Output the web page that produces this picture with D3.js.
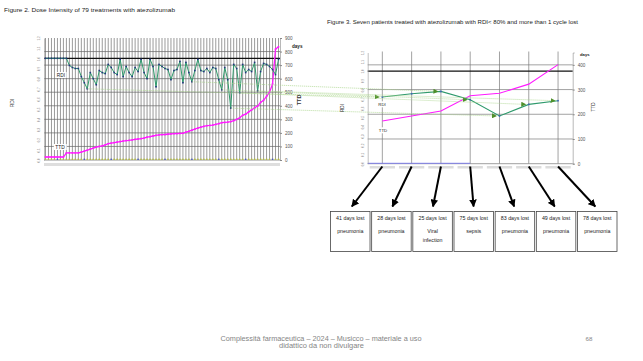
<!DOCTYPE html>
<html>
<head>
<meta charset="utf-8">
<script src="https://cdn.jsdelivr.net/npm/d3@7"></script>
<style>
  body { margin: 0; background: #fff; }
  svg { display: block; font-family: "Liberation Sans", Arial, sans-serif; }
</style>
</head>
<body>
<svg id="slide" width="643" height="361"></svg>
<script>
// ===== Data =====
// Figure 2: 79 treatments, sorted by time to discontinuation
const treatmentRdi = [
  1, 1, 1, 1, 1, 1, 1, 1, 0.93, 0.91,
  0.90, 0.90, 0.82, 0.76, 0.70, 0.86, 0.80, 0.74, 0.88, 0.86,
  0.85, 0.94, 0.91, 0.86, 0.84, 0.99, 0.82, 0.92, 0.86, 0.82,
  0.91, 0.87, 0.99, 0.86, 0.80, 0.99, 0.92, 0.72, 0.94, 0.92,
  0.90, 0.89, 0.79, 0.88, 0.89, 0.97, 0.76, 0.96, 0.86, 0.77,
  0.88, 0.99, 0.88, 0.87, 0.90, 0.86, 0.91, 0.90, 0.79, 0.69,
  0.91, 0.79, 0.51, 0.94, 0.90, 0.66, 0.94, 0.86, 0.89, 0.87,
  0.96, 0.68, 0.87, 0.95, 0.94, 0.92, 0.89, 0.84, 0.99
];
const treatmentTtd = [
  22, 22, 22, 22, 22, 22, 22, 52, 52, 52,
  52, 52, 58, 65, 72, 80, 88, 95, 100, 105,
  112, 120, 124, 128, 132, 136, 140, 143, 145, 148,
  152, 155, 158, 162, 168, 172, 177, 182, 185, 187,
  188, 190, 192, 194, 195, 196, 197, 205, 212, 220,
  228, 236, 242, 248, 253, 255, 258, 263, 268, 275,
  277, 279, 283, 290, 300, 312, 330, 338, 355, 370,
  385, 398, 425, 440, 470, 500, 560, 818, 835
];

// Figure 3: seven patients
const patientIds    = ['P1', 'P2', 'P3', 'P4', 'P5', 'P6', 'P7'];
const patientRdi    = [0.72, 0.755, 0.78, 0.69, 0.515, 0.64, 0.68];
const patientTtd    = [173, 193, 213, 275, 285, 322, 401];
// index of the same treatment in figure 2 (null = no link drawn)
const patientSource = [14, null, 49, 59, 62, 65, 71];
const daysLost      = [41, 28, 25, 75, 83, 49, 78];
const lossCause     = [['pneumonia'], ['pneumonia'], ['Viral', 'infection'], ['sepsis'],
                       ['pneumonia'], ['pneumonia'], ['pneumonia']];

const rdiTicks      = [0, 0.1, 0.2, 0.3, 0.4, 0.5, 0.6, 0.7, 0.8, 0.9, 1.0, 1.1, 1.2];
const ttdTicksLeft  = [0, 100, 200, 300, 400, 500, 600, 700, 800, 900];
const ttdTicksRight = [0, 100, 200, 300, 400];

// ===== Setup =====
const svg = d3.select('#slide');
const teal = '#2f9a6c', magenta = '#ff1aff', markerBlue = '#23357e';
const fmtRdi = d => d.toFixed(1).replace('.', ',');

const defs = svg.append('defs');
defs.append('marker').attr('id', 'blackHead')
  .attr('viewBox', '0 0 10 10').attr('refX', 9).attr('refY', 5)
  .attr('markerWidth', 3.8).attr('markerHeight', 3.8).attr('orient', 'auto')
  .append('path').attr('d', 'M0,0 L10,5 L0,10 z').attr('fill', '#000');
defs.append('marker').attr('id', 'greenHead')
  .attr('viewBox', '0 0 10 10').attr('refX', 9).attr('refY', 5)
  .attr('markerWidth', 5).attr('markerHeight', 5).attr('markerUnits', 'userSpaceOnUse')
  .attr('orient', 'auto')
  .append('path').attr('d', 'M0,0 L10,5 L0,10 z').attr('fill', '#4f8f2a');

// ===== Titles =====
svg.append('text').attr('x', 4).attr('y', 12)
  .attr('font-size', 6).attr('fill', '#222')
  .attr('textLength', 171).attr('lengthAdjust', 'spacingAndGlyphs')
  .text('Figure 2. Dose Intensity of 79 treatments with atezolizumab');
svg.append('text').attr('x', 327).attr('y', 24)
  .attr('font-size', 6).attr('fill', '#222')
  .attr('textLength', 251).attr('lengthAdjust', 'spacingAndGlyphs')
  .text('Figure 3. Seven patients treated with atezolizumab with RDI< 80% and more than 1 cycle lost');

// ===== Left chart (figure 2) =====
const xL   = d3.scaleBand().domain(d3.range(treatmentRdi.length)).range([44, 280]);
const yLR  = d3.scaleLinear().domain([0, 1.2]).range([160, 38]);
const yLT  = d3.scaleLinear().domain([0, 900]).range([160, 38]);
const cxL  = i => xL(i) + xL.bandwidth() / 2;

const left = svg.append('g');

// vertical grid, one per treatment
left.append('g').selectAll('line').data(d3.range(treatmentRdi.length)).join('line')
  .attr('x1', cxL).attr('x2', cxL).attr('y1', 38).attr('y2', 160)
  .attr('stroke', '#8e8e8e').attr('stroke-width', 0.9);

// horizontal grid on TTD ticks
left.append('g').selectAll('line').data(ttdTicksLeft.slice(1, -1)).join('line')
  .attr('x1', 44).attr('x2', 280).attr('y1', d => yLT(d)).attr('y2', d => yLT(d))
  .attr('stroke', '#666').attr('stroke-width', 0.7);

// RDI 100% reference
left.append('line').attr('x1', 44).attr('x2', 280)
  .attr('y1', yLR(1)).attr('y2', yLR(1))
  .attr('stroke', '#111').attr('stroke-width', 1.3);

// baseline + category label band
left.append('line').attr('x1', 44).attr('x2', 280).attr('y1', 160).attr('y2', 160)
  .attr('stroke', '#777').attr('stroke-width', 0.8);
left.append('rect').attr('x', 44).attr('y', 163).attr('width', 236).attr('height', 3)
  .attr('fill', '#dedede');
left.append('g').selectAll('rect').data(d3.range(treatmentRdi.length)).join('rect')
  .attr('x', i => cxL(i) - 0.7).attr('y', 158.6).attr('width', 1.4).attr('height', 1.4)
  .attr('fill', i => i % 9 === 4 ? '#4a5cc0' : '#b8c23a');

// left RDI axis (tiny rotated labels)
const axL = left.append('g').attr('transform', 'translate(44,0)')
  .call(d3.axisLeft(yLR).tickValues(rdiTicks).tickFormat(fmtRdi).tickSize(0).tickPadding(0));
axL.select('.domain').attr('stroke', '#999').attr('stroke-width', 0.6);
axL.selectAll('.tick text').attr('x', null).attr('dy', null)
  .attr('transform', 'translate(-4,0) rotate(-90)').attr('text-anchor', 'middle')
  .attr('font-size', 3).attr('fill', '#777');

// right TTD axis
const axLT = left.append('g').attr('transform', 'translate(280,0)')
  .call(d3.axisRight(yLT).tickValues(ttdTicksLeft).tickSize(2).tickPadding(3));
axLT.select('.domain').attr('stroke', '#888').attr('stroke-width', 0.6);
axLT.selectAll('.tick line').attr('stroke', '#888');
axLT.selectAll('.tick text').attr('font-size', 4.6).attr('fill', '#555');

// ===== Right chart (figure 3) =====
const xR  = d3.scaleBand().domain(patientIds).range([367.7, 572.7]);
const yRR = d3.scaleLinear().domain([0, 1.2]).range([163.7, 52.5]);
const yRT = d3.scaleLinear().domain([0, 450]).range([163.7, 52.5]);
const cxR = p => xR(p) + xR.bandwidth() / 2;

const right = svg.append('g');

right.append('g').selectAll('line').data(patientIds).join('line')
  .attr('x1', cxR).attr('x2', cxR).attr('y1', 51.5).attr('y2', 163.7)
  .attr('stroke', '#8a8a8a').attr('stroke-width', 0.8);
right.append('g').selectAll('line').data(ttdTicksRight.slice(1)).join('line')
  .attr('x1', 367.7).attr('x2', 572.7).attr('y1', d => yRT(d)).attr('y2', d => yRT(d))
  .attr('stroke', '#7a7a7a').attr('stroke-width', 0.7);
right.append('line').attr('x1', 367.7).attr('x2', 572.7)
  .attr('y1', yRR(1)).attr('y2', yRR(1))
  .attr('stroke', '#111').attr('stroke-width', 1.3);
right.append('line').attr('x1', 367.7).attr('x2', 572.7).attr('y1', 163.7).attr('y2', 163.7)
  .attr('stroke', '#888').attr('stroke-width', 0.8);
right.append('line').attr('x1', 367.7).attr('x2', cxR('P4')).attr('y1', 163.3).attr('y2', 163.3)
  .attr('stroke', '#7d7de8').attr('stroke-width', 1);
right.append('g').selectAll('rect').data(patientIds).join('rect')
  .attr('x', p => xR(p) + 2).attr('y', 166).attr('width', xR.bandwidth() - 4).attr('height', 2.5)
  .attr('fill', '#dcdcdc');

const axR = right.append('g').attr('transform', 'translate(367.7,0)')
  .call(d3.axisLeft(yRR).tickValues(rdiTicks).tickFormat(fmtRdi).tickSize(0).tickPadding(0));
axR.select('.domain').attr('stroke', '#999').attr('stroke-width', 0.6);
axR.selectAll('.tick text').attr('x', null).attr('dy', null)
  .attr('transform', 'translate(-4,0) rotate(-90)').attr('text-anchor', 'middle')
  .attr('font-size', 3).attr('fill', '#777');

const axRT = right.append('g').attr('transform', 'translate(572.7,0)')
  .call(d3.axisRight(yRT).tickValues(ttdTicksRight).tickSize(2).tickPadding(3));
axRT.select('.domain').attr('stroke', '#888').attr('stroke-width', 0.6);
axRT.selectAll('.tick line').attr('stroke', '#888');
axRT.selectAll('.tick text').attr('font-size', 4.6).attr('fill', '#555');

// ===== Dotted links from figure 2 points to figure 3 points =====
const links = patientIds.map((p, k) => ({ p, k, src: patientSource[k] }))
  .filter(d => d.src !== null);
svg.append('g').selectAll('line').data(links).join('line')
  .attr('x1', d => cxL(d.src)).attr('y1', d => yLR(treatmentRdi[d.src]))
  .attr('x2', d => cxR(d.p) - 3).attr('y2', d => yRR(patientRdi[d.k]))
  .attr('stroke', '#a8d48a').attr('stroke-width', 0.8)
  .attr('stroke-dasharray', '1,1')
  .attr('marker-end', 'url(#greenHead)');

// ===== Series: left =====
left.append('path').datum(treatmentTtd)
  .attr('d', d3.line().x((d, i) => cxL(i)).y(d => yLT(d)))
  .attr('fill', 'none').attr('stroke', magenta).attr('stroke-width', 1.3);
left.append('g').selectAll('rect').data(treatmentTtd).join('rect')
  .attr('x', (d, i) => cxL(i) - 0.8).attr('y', d => yLT(d) - 0.8)
  .attr('width', 1.6).attr('height', 1.6).attr('fill', magenta);

left.append('path').datum(treatmentRdi)
  .attr('d', d3.line().x((d, i) => cxL(i)).y(d => yLR(d)))
  .attr('fill', 'none').attr('stroke', teal).attr('stroke-width', 1);
left.append('g').selectAll('rect').data(treatmentRdi).join('rect')
  .attr('x', (d, i) => cxL(i) - 0.8).attr('y', d => yLR(d) - 0.8)
  .attr('width', 1.6).attr('height', 1.6).attr('fill', markerBlue);

// ===== Series: right =====
right.append('path').datum(patientTtd)
  .attr('d', d3.line().x((d, i) => cxR(patientIds[i])).y(d => yRT(d)))
  .attr('fill', 'none').attr('stroke', magenta).attr('stroke-width', 1.1);
right.append('path').datum(patientRdi)
  .attr('d', d3.line().x((d, i) => cxR(patientIds[i])).y(d => yRR(d)))
  .attr('fill', 'none').attr('stroke', teal).attr('stroke-width', 1.1);
right.append('g').selectAll('rect').data(patientRdi).join('rect')
  .attr('x', (d, i) => cxR(patientIds[i]) - 0.8).attr('y', d => yRR(d) - 0.8)
  .attr('width', 1.6).attr('height', 1.6).attr('fill', '#3d63b8');

// ===== Series labels and axis titles =====
function tag(x, y, txt, size) {
  const g = svg.append('g');
  const t = g.append('text').attr('x', x).attr('y', y).attr('text-anchor', 'middle')
    .attr('dominant-baseline', 'central').attr('font-size', size).attr('fill', '#222').text(txt);
  const b = t.node().getBBox();
  g.insert('rect', 'text').attr('x', b.x - 1.5).attr('y', b.y - 0.5)
    .attr('width', b.width + 3).attr('height', b.height + 1).attr('fill', '#fff');
}
tag(61, 75, 'RDI', 4.8);
tag(60, 147, 'TTD', 4.8);
tag(382, 104.3, 'RDI', 4.3);
tag(383, 130.3, 'TTD', 4.3);

function vtitle(x, y, txt, size, weight) {
  svg.append('text').attr('transform', `translate(${x},${y}) rotate(-90)`)
    .attr('text-anchor', 'middle').attr('dominant-baseline', 'central')
    .attr('font-size', size).attr('font-weight', weight).attr('fill', '#333').text(txt);
}
vtitle(12, 103, 'RDI', 5, 'normal');
vtitle(299, 100, 'TTD', 5.5, 'bold');
vtitle(342, 108, 'RDI', 4.6, 'normal');
vtitle(593, 107, 'TTD', 4.6, 'normal');

svg.append('text').attr('x', 292).attr('y', 47.5).attr('font-size', 4.6)
  .attr('font-weight', 'bold').attr('fill', '#222').text('days');
svg.append('text').attr('x', 580).attr('y', 55.5).attr('font-size', 4.2)
  .attr('font-weight', 'bold').attr('fill', '#222').text('days');

// ===== Cycles-lost boxes and arrows =====
const xBox = d3.scaleBand().domain(patientIds).range([330.5, 617]).paddingInner(0.04);
const boxTop = 211.5, boxH = 40;
const cxB = p => xBox(p) + xBox.bandwidth() / 2;

svg.append('g').selectAll('line').data(patientIds).join('line')
  .attr('x1', cxR).attr('y1', 166.5)
  .attr('x2', p => cxR(p) + (cxB(p) - cxR(p)) * 0.95).attr('y2', boxTop - 5)
  .attr('stroke', '#000').attr('stroke-width', 2)
  .attr('marker-end', 'url(#blackHead)');

const boxes = svg.append('g').selectAll('g').data(patientIds).join('g');
boxes.append('rect')
  .attr('x', p => xBox(p)).attr('y', boxTop)
  .attr('width', xBox.bandwidth()).attr('height', boxH)
  .attr('fill', '#fff').attr('stroke', '#444').attr('stroke-width', 0.8);
boxes.append('text')
  .attr('x', cxB).attr('y', boxTop + 8.5).attr('text-anchor', 'middle')
  .attr('font-size', 5.3).attr('fill', '#222')
  .text((p, k) => `${daysLost[k]} days lost`);
boxes.each(function (p, k) {
  d3.select(this).selectAll('text.cause').data(lossCause[k]).join('text')
    .attr('class', 'cause')
    .attr('x', cxB(p)).attr('y', (d, j) => boxTop + 21.5 + j * 8.5)
    .attr('text-anchor', 'middle').attr('font-size', 5.3).attr('fill', '#222')
    .text(d => d);
});

// ===== Footer =====
svg.append('text').attr('x', 321).attr('y', 340.5).attr('text-anchor', 'middle')
  .attr('font-size', 6.6).attr('fill', '#858585')
  .attr('textLength', 201).attr('lengthAdjust', 'spacingAndGlyphs')
  .text('Complessità farmaceutica – 2024 – Musicco – materiale a uso');
svg.append('text').attr('x', 321.5).attr('y', 348).attr('text-anchor', 'middle')
  .attr('font-size', 6.6).attr('fill', '#858585')
  .attr('textLength', 85).attr('lengthAdjust', 'spacingAndGlyphs')
  .text('didattico da non divulgare');
svg.append('text').attr('x', 589).attr('y', 341).attr('text-anchor', 'middle')
  .attr('font-size', 6.2).attr('fill', '#858585').text('68');
</script>
</body>
</html>
